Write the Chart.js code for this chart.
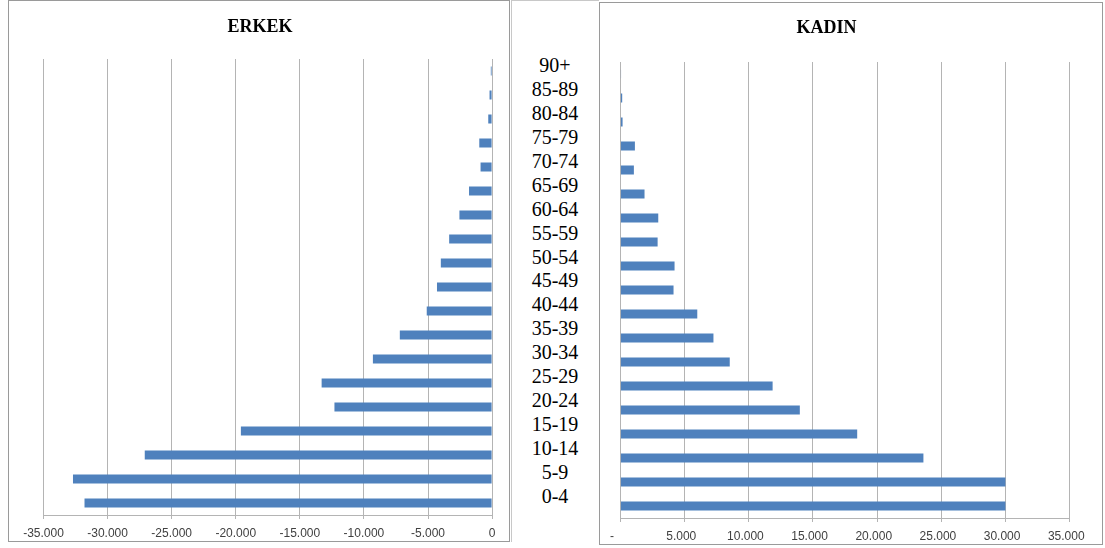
<!DOCTYPE html>
<html>
<head>
<meta charset="utf-8">
<title>ERKEK / KADIN</title>
<script src="https://cdn.jsdelivr.net/npm/chart.js@4.4.0/dist/chart.umd.min.js"></script>
<style>
  body { margin: 0; background: #fff; width: 1105px; height: 548px; position: relative; overflow: hidden; }
  .panel { position: absolute; border: 1px solid #9a9a9a; box-sizing: border-box; }
  #left { left: 8px; top: 0; width: 502px; height: 542px; }
  #right { left: 599px; top: 2px; width: 504px; height: 543px; }
  #mid { position: absolute; left: 511px; top: 0; width: 88px; height: 542px; border-left: 1px solid #c8c8c8; border-top: 1px solid #c8c8c8; box-sizing: border-box; }
  #ages { position: absolute; left: 511px; top: 54px; width: 88px; font: 20px "Liberation Serif", serif; color: #000; text-align: center; }
  #ages div { height: 23.94px; line-height: 23.94px; }
</style>
</head>
<body>
<div class="panel" id="left"><canvas id="erkekChart"></canvas></div>
<div id="mid"></div>
<div id="ages"></div>
<div class="panel" id="right"><canvas id="kadinChart"></canvas></div>

<script>
// Age groups, youngest first (axis is reversed so 90+ sits on top)
const ages = ['0-4','5-9','10-14','15-19','20-24','25-29','30-34','35-39','40-44','45-49',
              '50-54','55-59','60-64','65-69','70-74','75-79','80-84','85-89','90+'];

// Values
const erkek = [-31800, -32700, -27100, -19600, -12300, -13300, -9300, -7200, -5100, -4300,
               -4000, -3350, -2550, -1800, -900, -1000, -300, -200, -100];
const kadin = [30000, 30000, 23610, 18450, 13980, 11860, 8520, 7250, 5990, 4140,
               4220, 2900, 2950, 1880, 1050, 1130, 170, 140, 50];

// Tick labels as printed on the axes
const erkekTicks = ['-35.000','-30.000','-25.000','-20.000','-15.000','-10.000','-5.000','0'];
const kadinTicks = ['-     ','5.000  ','10.000  ','15.000  ','20.000  ','25.000  ','30.000  ','35.000  '];

const BLUE = '#4f81bd';
const GRID = '#b4b4b4';

// Middle column with the age labels
const ageBox = document.getElementById('ages');
ages.slice().reverse().forEach(a => {
  const d = document.createElement('div');
  d.textContent = a;
  ageBox.appendChild(d);
});

// Title drawn at a fixed spot of each panel
const panelTitle = {
  id: 'panelTitle',
  afterDraw(chart, args, opts) {
    const ctx = chart.ctx;
    ctx.save();
    ctx.font = 'bold 18px "Liberation Serif", serif';
    ctx.fillStyle = '#000';
    ctx.textAlign = 'center';
    ctx.textBaseline = 'middle';
    ctx.fillText(opts.text, opts.x, opts.y);
    ctx.restore();
  }
};

function pyramidSide(id, values, min, max, tickLabels, padding, axisHeight, title) {
  return new Chart(document.getElementById(id), {
    type: 'bar',
    data: {
      labels: ages,
      datasets: [{
        data: values,
        backgroundColor: BLUE,
        borderWidth: 0,
        barPercentage: 0.38,
        categoryPercentage: 1
      }]
    },
    plugins: [panelTitle],
    options: {
      indexAxis: 'y',
      responsive: true,
      maintainAspectRatio: false,
      animation: false,
      layout: { padding: padding },
      plugins: {
        legend: { display: false },
        tooltip: { enabled: false },
        panelTitle: title
      },
      scales: {
        y: { display: false, reverse: true },
        x: {
          min: min,
          max: max,
          afterFit: s => { s.height = axisHeight; },
          ticks: {
            stepSize: 5000,
            padding: 7,
            color: '#404040',
            font: { family: '"Liberation Sans", Arial, sans-serif', size: 12 },
            callback: (v, i) => tickLabels[i]
          },
          grid: { color: GRID, lineWidth: 1, tickLength: 4 },
          border: { display: true, color: GRID }
        }
      }
    }
  });
}

pyramidSide('erkekChart', erkek, -35000, 0, erkekTicks,
  { left: 34.5, right: 16.9, top: 58, bottom: 0 }, 26,
  { text: 'ERKEK', x: 251, y: 26.5 });

pyramidSide('kadinChart', kadin, 0, 35000, kadinTicks,
  { left: 20.4, right: 32.4, top: 59, bottom: 0 }, 26,
  { text: 'KADIN', x: 226.6, y: 25.5 });
</script>
</body>
</html>
